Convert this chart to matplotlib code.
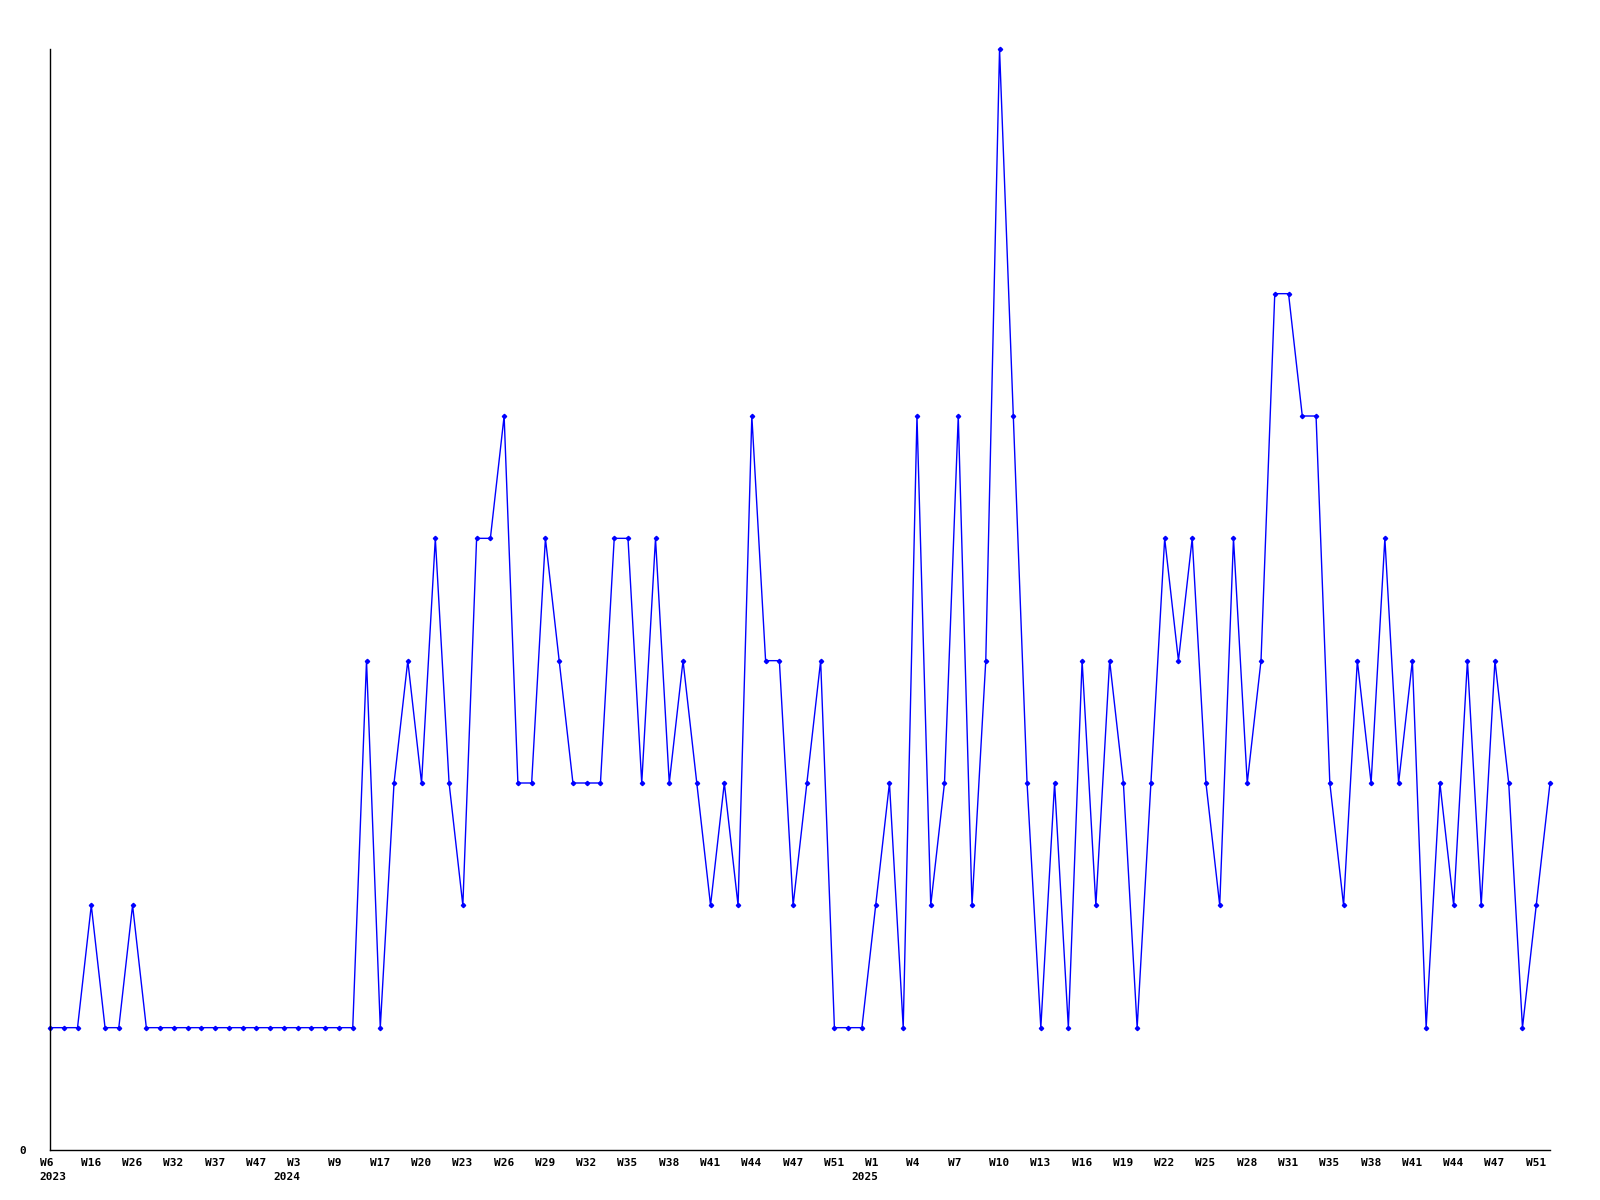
import matplotlib
matplotlib.use("Agg")
import matplotlib.pyplot as plt
import matplotlib.transforms as mtransforms

# weekly counts, one per plotted week (weeks without data are skipped)
counts = [1, 1, 1, 2, 1, 1, 2,
          1, 1, 1, 1, 1, 1, 1, 1, 1, 1, 1, 1, 1, 1, 1, 1,
          4, 1, 3, 4, 3, 5, 3, 2, 5, 5, 6, 3, 3, 5, 4, 3, 3, 3,
          5, 5, 3, 5, 3, 4, 3, 2, 3, 2, 6, 4, 4, 2, 3, 4,
          1, 1, 1, 2, 3, 1, 6, 2, 3, 6, 2, 4, 9, 6, 3, 1, 3, 1,
          4, 2, 4, 3, 1, 3, 5, 4, 5, 3, 2, 5, 3, 4, 7, 7, 6, 6,
          3, 2, 4, 3, 5, 3, 4, 1, 3, 2, 4, 2, 4, 3, 1, 2, 3]

# a label every 3rd point
week_labels = ["W6", "W16", "W26", "W32", "W37", "W47", "W3", "W9", "W17",
               "W20", "W23", "W26", "W29", "W32", "W35", "W38", "W41", "W44",
               "W47", "W51", "W1", "W4", "W7", "W10", "W13", "W16", "W19",
               "W22", "W25", "W28", "W31", "W35", "W38", "W41", "W44", "W47",
               "W51"]
label_step = 3

# year markers: tick number -> year
year_ticks = [0, 6, 20]
year_labels = ["2023", "2024", "2025"]

FONT = dict(family="DejaVu Sans Mono", fontweight="bold", fontsize=8)

fig = plt.figure(figsize=(16, 12), dpi=100)
ax = fig.add_axes([50 / 1600, 1 - 1150 / 1200, 1500 / 1600, 1101 / 1200])

x = list(range(len(counts)))
ax.plot(x, counts, color="#0000FF", linewidth=1.0, marker="D",
        markersize=2.2, markerfacecolor="#0000FF", markeredgecolor="#0000FF",
        clip_on=False)

ax.set_xlim(0, len(counts) - 1)
ax.set_ylim(0, max(counts))

for side in ["top", "right"]:
    ax.spines[side].set_visible(False)
for side in ["left", "bottom"]:
    ax.spines[side].set_color("black")
    ax.spines[side].set_linewidth(1.0)

# y axis: only the zero label
ax.set_yticks([0])
ax.set_yticklabels(["0"], **FONT)
ax.tick_params(axis="y", length=0, pad=17)

# x axis: week labels, left-aligned a little left of the point
tick_pos = [i * label_step for i in range(len(week_labels))]
ax.set_xticks(tick_pos)
ax.set_xticklabels(week_labels, ha="left", **FONT)
ax.tick_params(axis="x", length=0, pad=6)
shift = mtransforms.ScaledTranslation(-10.5 / 100, 0, fig.dpi_scale_trans)
for lbl in ax.get_xticklabels():
    lbl.set_transform(lbl.get_transform() + shift)

# year labels under the week labels
trans = mtransforms.blended_transform_factory(ax.transData, ax.transAxes)
for k, (t, yr) in enumerate(zip(year_ticks, year_labels)):
    xpos = tick_pos[t]
    if k == 0:
        off = mtransforms.ScaledTranslation(-10.5 / 100, -22.5 / 100, fig.dpi_scale_trans)
        ax.text(xpos, 0, yr, ha="left", va="top", transform=trans + off, **FONT)
    else:
        off = mtransforms.ScaledTranslation(-11 / 100, -22.5 / 100, fig.dpi_scale_trans)
        ax.text(xpos, 0, yr, ha="center", va="top", transform=trans + off, **FONT)

fig.savefig("out.png", dpi=100, facecolor="white")
